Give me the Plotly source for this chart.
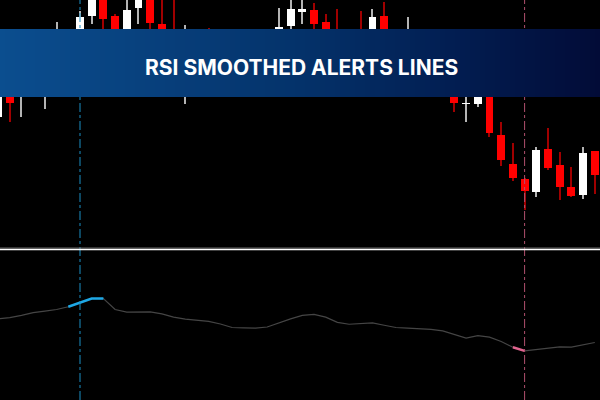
import plotly.graph_objects as go

# ---------------- data ----------------
idx = list(range(-7, 45))
opens  = [131,173,158,186,160,178,198,208,232,253,232,213,240,253,224,198,168,173,208,188,168,188,203,188,
          203,222,236,238,226,198,176,203,198,232,203,168,188,168,178,163,144,144,156,113,84,69,56,99,83,61,53,97]
highs  = [198,178,193,208,198,226,216,237,258,258,234,250,258,258,253,253,223,203,220,193,203,210,213,216,
          240,250,251,245,234,239,208,237,239,246,213,231,198,193,188,173,158,163,160,126,105,70,101,120,96,81,101,97]
lows   = [128,126,131,178,139,168,190,203,224,218,203,208,224,213,200,168,144,163,168,163,158,178,183,178,
          198,216,224,217,203,170,166,178,193,196,178,160,163,158,153,136,126,141,111,82,67,38,51,78,48,51,49,54]
closes = [188,145,188,200,193,208,213,231,251,229,208,238,253,225,208,178,203,193,178,173,193,203,193,208,
          221,239,239,224,210,178,198,188,231,203,188,203,173,183,163,145,145,156,115,88,70,57,98,80,61,52,95,73]
rsi = [52.9,53.4,54.3,55.4,56.0,56.7,57.8,59.4,61.1,61.1,56.7,55.6,55.5,55.7,54.9,53.6,52.8,52.5,51.9,50.8,
       49.4,49.2,49.1,49.6,51.3,52.9,54.3,54.7,53.6,51.5,50.7,51.0,51.3,50.3,49.4,49.1,48.9,48.6,48.0,46.5,
       45.1,46.1,45.5,43.7,41.4,39.9,40.5,41.2,41.5,41.4,42.4,43.3]
buy_signal_range = (-1, 2)     # highlighted (overbought) stretch of RSI
sell_signal_range = (37, 38)   # highlighted (oversold) stretch of RSI
buy_line_at = 0
sell_line_at = 38
title_text = "RSI SMOOTHED ALERTS LINES"

# ---------------- figure ----------------
bull = [c >= o for o, c in zip(opens, closes)]
body_col = ["#ffffff" if b else "#ff0000" for b in bull]
wick_col = ["#b4b4b4" if b else "#a00000" for b in bull]

fig = go.Figure()
fig.add_trace(go.Bar(x=idx, y=[h - l for h, l in zip(highs, lows)], base=lows, width=0.09,
                     marker=dict(color=wick_col, line=dict(width=0)), hoverinfo="skip"))
fig.add_trace(go.Bar(x=idx, y=[max(abs(c - o), 1) for o, c in zip(opens, closes)],
                     base=[min(o, c) for o, c in zip(opens, closes)], width=0.68,
                     marker=dict(color=body_col, line=dict(width=0)), hoverinfo="skip"))

fig.add_trace(go.Scatter(x=idx, y=rsi, mode="lines", yaxis="y2",
                         line=dict(color="#454545", width=1.2), hoverinfo="skip"))

def seg(r):
    return [v if r[0] <= i <= r[1] else None for i, v in zip(idx, rsi)]

fig.add_trace(go.Scatter(x=idx, y=seg(buy_signal_range), mode="lines", yaxis="y2",
                         line=dict(color="#1ea8e6", width=2.5), hoverinfo="skip"))
fig.add_trace(go.Scatter(x=idx, y=seg(sell_signal_range), mode="lines", yaxis="y2",
                         line=dict(color="#e0648f", width=2.5), hoverinfo="skip"))

shapes = []
shapes.append(dict(type="line", xref="x", yref="paper", x0=buy_line_at, x1=buy_line_at, y0=0, y1=1,
                   line=dict(color="#1b8fc4", width=1, dash="dashdot"), layer="above"))
shapes.append(dict(type="line", xref="x", yref="paper", x0=sell_line_at, x1=sell_line_at, y0=0, y1=1,
                   line=dict(color="#b0506e", width=1, dash="dashdot"), layer="above"))
# separator
shapes.append(dict(type="line", xref="paper", yref="paper", x0=0, x1=1, y0=1 - 248 / 400, y1=1 - 248 / 400,
                   line=dict(color="#6a6a6a", width=1), layer="above"))
shapes.append(dict(type="line", xref="paper", yref="paper", x0=0, x1=1, y0=1 - 249.6 / 400, y1=1 - 249.6 / 400,
                   line=dict(color="#ffffff", width=1.5), layer="above"))

# banner gradient (vertical strips)
stops = [(0.0, (11, 78, 143)), (0.5, (4, 50, 106)), (0.75, (2, 30, 82)), (1.0, (2, 11, 55))]
def grad(t):
    for (t0, c0), (t1, c1) in zip(stops[:-1], stops[1:]):
        if t0 <= t <= t1:
            f = (t - t0) / (t1 - t0)
            return "rgb(%d,%d,%d)" % tuple(round(a + (b - a) * f) for a, b in zip(c0, c1))
    return "rgb(%d,%d,%d)" % stops[-1][1]

n = 120
for k in range(n):
    shapes.append(dict(type="rect", xref="paper", yref="paper", x0=k / n, x1=(k + 1) / n + 0.002,
                       y0=1 - 97 / 400, y1=1 - 29 / 400, fillcolor=grad((k + 0.5) / n),
                       line=dict(width=0), layer="above"))

fig.update_layout(
    width=600, height=400, margin=dict(l=0, r=0, t=0, b=0),
    paper_bgcolor="#000000", plot_bgcolor="#000000",
    showlegend=False, barmode="overlay", bargap=0,
    xaxis=dict(range=[-80 / 11.7, 520 / 11.7], visible=False, fixedrange=True),
    yaxis=dict(domain=[1 - 248 / 400, 1], range=[0, 248], visible=False),
    yaxis2=dict(domain=[0, 1 - 252 / 400], range=[20, 80], visible=False, anchor="x"),
    shapes=shapes,
    annotations=[dict(text="<b>%s</b>" % title_text, xref="paper", yref="paper", x=0.5025, y=1 - 67 / 400,
                      xanchor="center", yanchor="middle", showarrow=False,
                      font=dict(family="Inter", size=21, color="#ffffff"))],
)

fig.write_html("out.html", config={"displayModeBar": False},
               post_script="document.body.style.margin='0';document.body.style.background='#000';")
